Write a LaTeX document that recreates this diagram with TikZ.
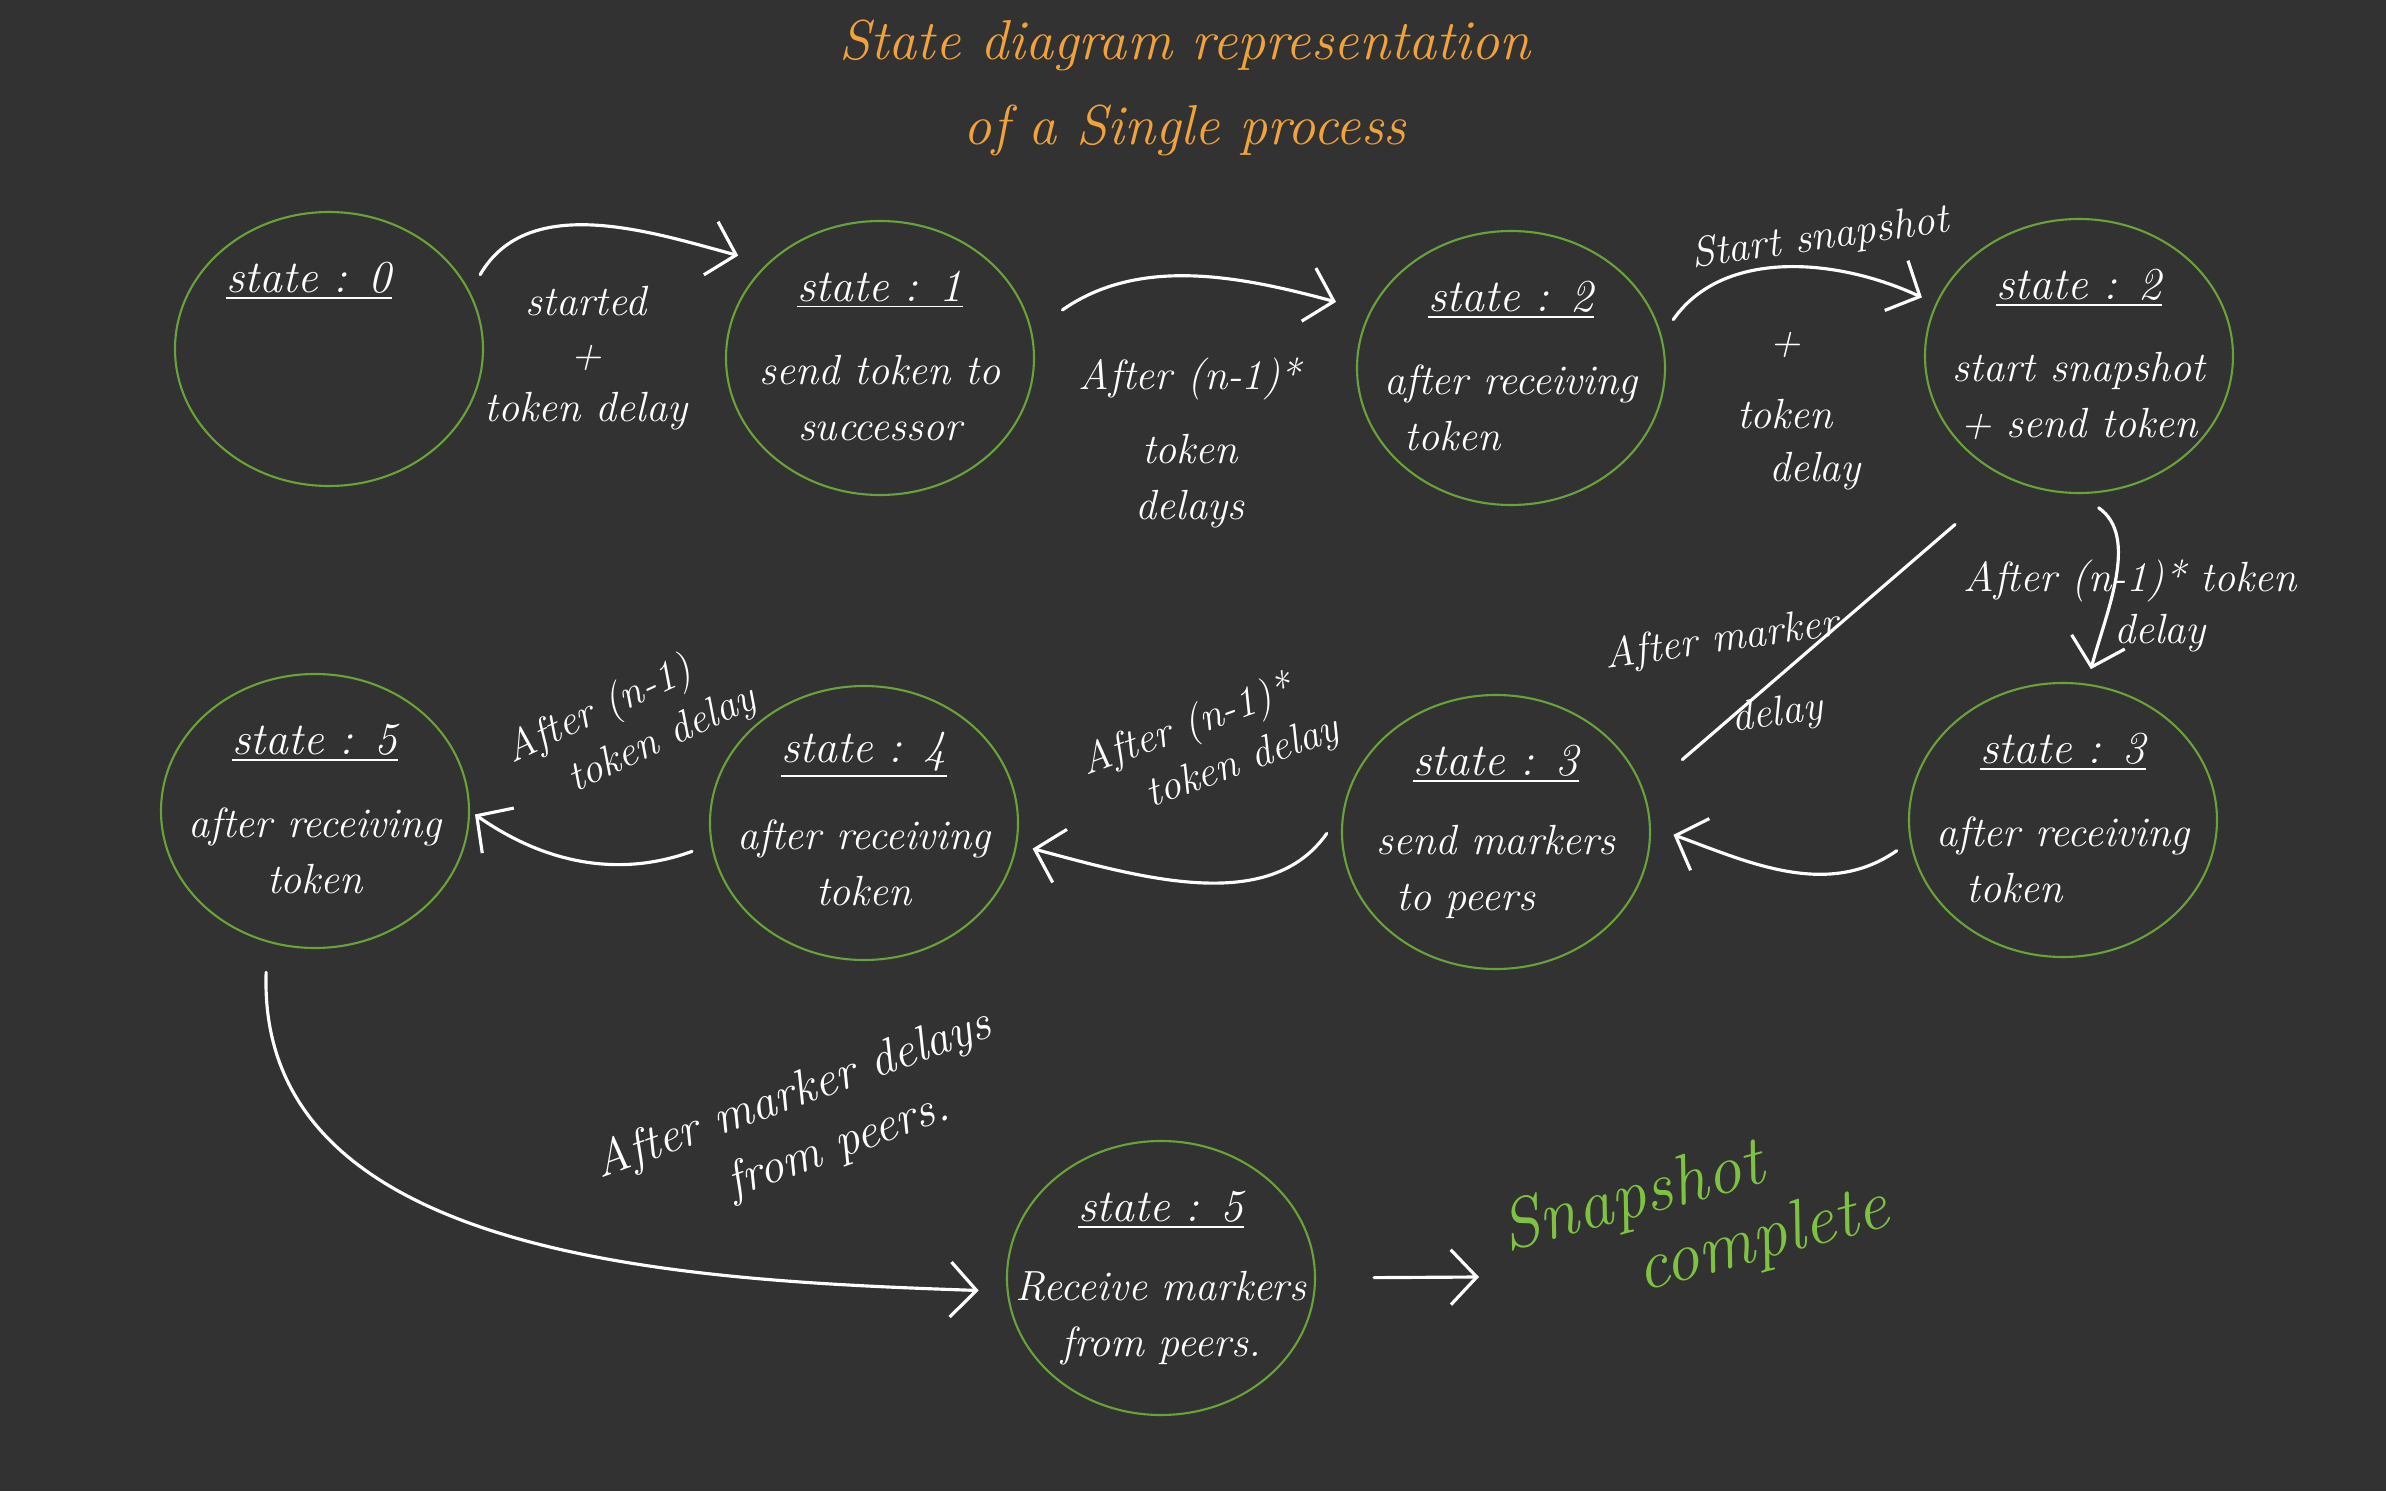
\documentclass[tikz,border=0pt]{standalone}
\usepackage{xcolor}
\usepackage{tikz}
\usetikzlibrary{shapes.geometric, arrows.meta}

\definecolor{board}{HTML}{323232}
\definecolor{ringgreen}{HTML}{6AA23A}
\definecolor{donegreen}{HTML}{7FC241}
\definecolor{titleorange}{HTML}{F2A23A}

\tikzset{
  proc/.style={ellipse, draw=ringgreen, line width=0.6pt, minimum width=3.08cm, minimum height=2.74cm, inner sep=0pt},
  head/.style={anchor=center, yshift=-0.70cm, text=white, font=\fontsize{13}{15}\selectfont\itshape},
  body/.style={anchor=center, yshift=-0.40cm, text=white, align=center, font=\fontsize{12}{16}\selectfont\itshape},
  note/.style={text=white, align=center, font=\fontsize{12}{15}\selectfont\itshape},
  edge/.style={draw=white, line width=0.9pt, line cap=round},
  tip/.style={-{Straight Barb[length=2.6mm, width=5.5mm]}}
}

\begin{document}
\begin{tikzpicture}
                \fill[board] (0,0) rectangle (23.86,14.91);
                \useasboundingbox (0,0) rectangle (23.86,14.91);

                \node[text=titleorange, align=center, font=\fontsize{16}{24}\selectfont\itshape] (title) at (11.85, 14.03) {State diagram representation\\ of a Single process};

                \node[proc, label={[head, xshift=-0.2cm]north:\underline{state : 0}}] (s0) at (3.29, 11.42) {};
                \node[proc, label={[head]north:\underline{state : 1}}, label={[body]center:{send token to\\ successor}}] (s1) at (8.80, 11.33) {};
                \node[proc, label={[head]north:\underline{state : 2}}, label={[body, align=left]center:{after receiving\\ \hspace*{0.2cm}token}}] (s2) at (15.11, 11.23) {};
                \node[proc, label={[head]north:\underline{state : 2}}, label={[body]center:{start snapshot\\ + send token}}] (s2b) at (20.79, 11.35) {};
                \node[proc, label={[head]north:\underline{state : 5}}, label={[body]center:{after receiving\\ token}}] (s5) at (3.15, 6.80) {};
                \node[proc, label={[head]north:\underline{state : 4}}, label={[body]center:{after receiving\\ token}}] (s4) at (8.64, 6.68) {};
                \node[proc, label={[head]north:\underline{state : 3}}, label={[body, align=left]center:{send markers\\ \hspace*{0.2cm}to peers}}] (s3) at (14.96, 6.59) {};
                \node[proc, label={[head]north:\underline{state : 3}}, label={[body, align=left]center:{after receiving\\ \hspace*{0.3cm}token}}] (s3b) at (20.63, 6.71) {};
                \node[proc, label={[head]north:\underline{state : 5}}, label={[body]center:{Receive markers\\ from peers.}}] (s5b) at (11.61, 2.13) {};

                \node[note] (l01) at (5.86, 11.33) {started\\ +\\ token delay};
                \node[note] (l12) at (11.90, 10.48) {After (n-1)*\\[6pt] token\\[1pt] delays};
                \node[note, rotate=8] (l2s) at (18.20, 12.52) {Start snapshot};
                \node[note] (l2d) at (17.85, 10.80) {+\\[6pt] token\\ \hspace*{0.6cm}delay};
                \node[note, rotate=8] (lmk) at (17.27, 8.10) {After marker\\[8pt] \hspace*{0.9cm}delay};
                \node[note] (l2b3) at (21.30, 8.85) {After (n-1)* token\\ \hspace*{0.6cm}delay};
                \node[note, rotate=20] (l34) at (11.96, 7.40) {After (n-1)*\\ \hspace*{0.8cm}token delay};
                \node[note, rotate=25] (l45) at (6.10, 7.57) {After (n-1)\\ \hspace*{0.9cm}token delay};
                \node[note, rotate=20, font=\fontsize{14}{18}\selectfont\itshape] (l5m) at (8.04, 3.66) {After marker delays\\ \hspace*{0.5cm}from peers.};
                \node[note, text=donegreen, rotate=15, align=left, font=\fontsize{20}{21}\selectfont\itshape] (done) at (16.95, 2.70) {Snapshot\\ \hspace*{1.2cm}complete};
                \coordinate (fin) at (14.79, 2.14);

                \draw[edge, tip, shorten <=0.2cm, shorten >=0.3cm] (s0.22) to[out=60, in=165] (s1.140);
                \draw[edge, tip, shorten <=0.37cm, shorten >=0.35cm] (s1.10) to[out=35, in=165] (s2.158);
                \draw[edge, tip, shorten <=0.2cm, shorten >=0.15cm] (s2.12) to[out=55, in=155] (s2b.160);
                \draw[edge, shorten <=0.7cm, shorten >=0.5cm] (s2b.240) -- (s3.15);
                \draw[edge, tip, shorten <=0.24cm, shorten >=0.15cm] (s2b.south) to[out=-35, in=75] (s3b.80);
                \draw[edge, tip, shorten <=0.16cm, shorten >=0.24cm] (s3b.188) to[out=215, in=-20] (s3.2);
                \draw[edge, tip, shorten <=0.28cm, shorten >=0.16cm] (s3.172) to[out=235, in=-15] (s4.-8);
                \draw[edge, tip, shorten <=0.2cm, shorten >=0.06cm] (s4.188) to[out=200, in=-35] (s5.0);
                \draw[edge, tip, shorten <=0.3cm, shorten >=0.28cm] (s5.250) to[out=-92, in=178] (s5b.185);
                \draw[edge, tip, shorten <=0.58cm] (s5b.east) -- (fin);
            \end{tikzpicture}
\end{document}
